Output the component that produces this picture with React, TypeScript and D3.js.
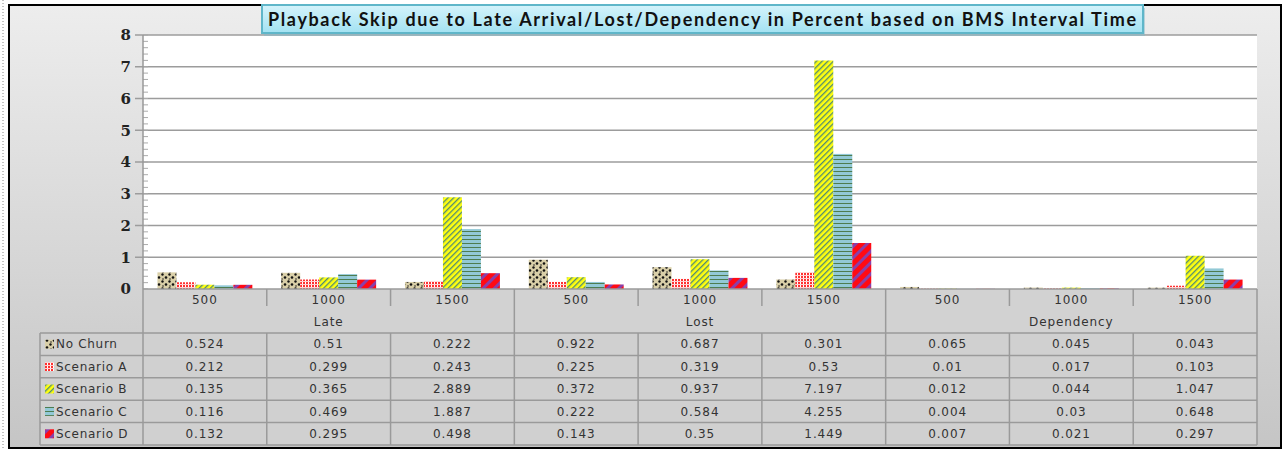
import * as d3 from "d3";

const groups = ["Late", "Lost", "Dependency"];
const intervals = ["500", "1000", "1500"];
const seriesNames = ["No Churn", "Scenario A", "Scenario B", "Scenario C", "Scenario D"];

// values per series, in column order Late 500/1000/1500, Lost ..., Dependency ...
const noChurn = [0.524, 0.51, 0.222, 0.922, 0.687, 0.301, 0.065, 0.045, 0.043];
const scenarioA = [0.212, 0.299, 0.243, 0.225, 0.319, 0.53, 0.01, 0.017, 0.103];
const scenarioB = [0.135, 0.365, 2.889, 0.372, 0.937, 7.197, 0.012, 0.044, 1.047];
const scenarioC = [0.116, 0.469, 1.887, 0.222, 0.584, 4.255, 0.004, 0.03, 0.648];
const scenarioD = [0.132, 0.295, 0.498, 0.143, 0.35, 1.449, 0.007, 0.021, 0.297];

const yTicks = [0, 1, 2, 3, 4, 5, 6, 7, 8];
const title = "Playback Skip due to Late Arrival/Lost/Dependency in Percent  based on BMS Interval Time";

const seriesValues = [noChurn, scenarioA, scenarioB, scenarioC, scenarioD];
const patternIds = ["pNoChurn", "pScA", "pScB", "pScC", "pScD"];

export default function App() {
  const W = 1286;
  const H = 450;
  const plot = { left: 143, right: 1257, top: 35, bottom: 289 };

  const columns = groups.flatMap((g) => intervals.map((i) => `${g}-${i}`));

  const x = d3.scaleBand<string>().domain(columns).range([plot.left, plot.right]);
  const xInner = d3
    .scaleBand<string>()
    .domain(seriesNames)
    .range([0, x.bandwidth()])
    .paddingOuter(0.76);
  const y = d3.scaleLinear().domain([0, 8]).range([plot.bottom, plot.top]);
  const minorTicks = d3.range(0, 8.01, 0.2);

  const rowTop = 333;
  const rowH = 22.4;
  const headerMid = 300;
  const groupMid = 322;
  const tableBottom = rowTop + rowH * 5;
  const legendLeft = 40;
  const textFont = "'DejaVu Sans', Verdana, sans-serif";
  const cellText = { fontFamily: textFont, fontSize: 12, letterSpacing: 0.9, fill: "#333" };

  return (
    <svg width={W} height={H} style={{ position: "absolute", left: 0, top: 0 }}>
      <defs>
        <linearGradient id="bg" x1="0" y1="0" x2="0" y2="1">
          <stop offset="0" stopColor="#ededed" />
          <stop offset="1" stopColor="#c5c5c5" />
        </linearGradient>
        <linearGradient id="titleBg" x1="0" y1="0" x2="0" y2="1">
          <stop offset="0" stopColor="#d4f3fb" />
          <stop offset="1" stopColor="#a3e2f2" />
        </linearGradient>
        <pattern id="pNoChurn" width="7" height="7" patternUnits="userSpaceOnUse">
          <rect width="7" height="7" fill="#d9cfa8" />
          <circle cx="1.5" cy="1.5" r="1.2" fill="#111" />
          <circle cx="5" cy="4.5" r="1.3" fill="#111" />
          <circle cx="2" cy="6" r="0.8" fill="#222" />
        </pattern>
        <pattern id="pScA" width="3" height="3" patternUnits="userSpaceOnUse">
          <rect width="3" height="3" fill="#ff3030" />
          <rect x="2" width="1" height="3" fill="#ffffff" />
          <rect y="2" width="3" height="1" fill="#ffd0d0" />
        </pattern>
        <pattern id="pScB" width="4" height="4" patternUnits="userSpaceOnUse" patternTransform="rotate(45)">
          <rect width="4" height="4" fill="#ffff10" />
          <rect width="1.3" height="4" fill="#4f8a74" />
        </pattern>
        <pattern id="pScC" width="4" height="4" patternUnits="userSpaceOnUse">
          <rect width="4" height="4" fill="#92c9d6" />
          <rect y="3" width="4" height="1" fill="#4e7c50" />
        </pattern>
        <pattern id="pScD" width="8" height="8" patternUnits="userSpaceOnUse" patternTransform="rotate(45)">
          <rect width="8" height="8" fill="#ff0a14" />
          <rect width="3" height="8" fill="#8a3fa8" />
        </pattern>
      </defs>

      {/* page background and frame */}
      <rect x={0} y={0} width={W} height={H} fill="#ffffff" />
      <line x1={3} y1={0} x2={3} y2={H} stroke="#888" strokeDasharray="1,2" />
      <rect x={9} y={5} width={1272} height={443} fill="url(#bg)" stroke="#000" strokeWidth={2} />

      {/* plot area */}
      <rect x={plot.left} y={plot.top} width={plot.right - plot.left} height={plot.bottom - plot.top} fill="#fff" />
      {yTicks.slice(1).map((t) => (
        <line key={t} x1={plot.left - 8} x2={plot.right} y1={y(t)} y2={y(t)} stroke="#9c9c9c" strokeWidth={1.5} />
      ))}
      {minorTicks.map((t, i) => (
        <line key={i} x1={plot.left} x2={plot.left + 5} y1={y(t)} y2={y(t)} stroke="#aaa" strokeWidth={1} />
      ))}
      <line x1={plot.left} x2={plot.left} y1={plot.top} y2={plot.bottom} stroke="#999" strokeWidth={1.5} />
      {yTicks.map((t) => (
        <text
          key={t}
          x={131}
          y={y(t)}
          dy="0.35em"
          textAnchor="end"
          fontFamily="'DejaVu Serif', serif"
          fontWeight="bold"
          fontSize={15}
          fill="#222"
        >
          {t}
        </text>
      ))}

      {/* bars */}
      {seriesValues.map((vals, si) =>
        vals.map((v, ci) => (
          <rect
            key={`${si}-${ci}`}
            x={(x(columns[ci]) ?? 0) + (xInner(seriesNames[si]) ?? 0)}
            y={y(v)}
            width={xInner.bandwidth()}
            height={plot.bottom - y(v)}
            fill={`url(#${patternIds[si]})`}
          />
        ))
      )}

      {/* data table */}
      <rect x={plot.left} y={plot.bottom} width={plot.right - plot.left} height={rowTop - plot.bottom} fill="#d2d2d2" />
      <rect x={legendLeft} y={rowTop} width={plot.right - legendLeft} height={tableBottom - rowTop} fill="#d0d0d0" />
      <line x1={plot.left} x2={plot.right} y1={plot.bottom} y2={plot.bottom} stroke="#9a9a9a" strokeWidth={1.5} />
      {columns.map((c, i) => (
        <line
          key={c}
          x1={x(c) ?? 0}
          x2={x(c) ?? 0}
          y1={plot.bottom}
          y2={i % 3 === 0 ? tableBottom : 306}
          stroke="#9a9a9a"
          strokeWidth={1.5}
        />
      ))}
      <line x1={plot.right} x2={plot.right} y1={plot.bottom} y2={tableBottom} stroke="#9a9a9a" strokeWidth={1.5} />
      {d3.range(6).map((r) => (
        <line
          key={r}
          x1={legendLeft}
          x2={plot.right}
          y1={rowTop + r * rowH}
          y2={rowTop + r * rowH}
          stroke="#9a9a9a"
          strokeWidth={1.5}
        />
      ))}
      <line x1={legendLeft} x2={legendLeft} y1={rowTop} y2={tableBottom} stroke="#9a9a9a" strokeWidth={1.5} />
      {columns.map((c, i) => (
        <line
          key={`v${c}`}
          x1={x(c) ?? 0}
          x2={x(c) ?? 0}
          y1={rowTop}
          y2={tableBottom}
          stroke="#9a9a9a"
          strokeWidth={1.5}
          opacity={i % 3 === 0 ? 0 : 1}
        />
      ))}

      {columns.map((c, i) => (
        <text
          key={`h${c}`}
          x={(x(c) ?? 0) + x.bandwidth() / 2}
          y={headerMid}
          dy="0.35em"
          textAnchor="middle"
          {...cellText}
        >
          {intervals[i % 3]}
        </text>
      ))}
      {groups.map((g, gi) => (
        <text
          key={g}
          x={(x(columns[gi * 3 + 1]) ?? 0) + x.bandwidth() / 2}
          y={groupMid}
          dy="0.35em"
          textAnchor="middle"
          {...cellText}
        >
          {g}
        </text>
      ))}

      {seriesNames.map((s, si) => (
        <g key={s}>
          <rect x={45} y={rowTop + si * rowH + rowH / 2 - 4.5} width={9} height={9} fill={`url(#${patternIds[si]})`} />
          <text x={56} y={rowTop + si * rowH + rowH / 2} dy="0.35em" {...cellText} letterSpacing={0.7}>
            {s}
          </text>
          {seriesValues[si].map((v, ci) => (
            <text
              key={ci}
              x={(x(columns[ci]) ?? 0) + x.bandwidth() / 2}
              y={rowTop + si * rowH + rowH / 2}
              dy="0.35em"
              textAnchor="middle"
              {...cellText}
            >
              {v}
            </text>
          ))}
        </g>
      ))}

      {/* title */}
      <rect x={264} y={8} width={881} height={28} fill="#7fb8c8" opacity={0.5} />
      <rect x={262} y={5} width={881} height={28} fill="url(#titleBg)" stroke="#5fb6c9" strokeWidth={2} />
      <text
        x={268}
        y={19.5}
        dy="0.35em"
        textLength={868}
        lengthAdjust="spacing"
        fontFamily="Lato, 'Open Sans', sans-serif"
        fontWeight="bold"
        fontSize={18}
        fill="#111"
      >
        {title}
      </text>
    </svg>
  );
}
